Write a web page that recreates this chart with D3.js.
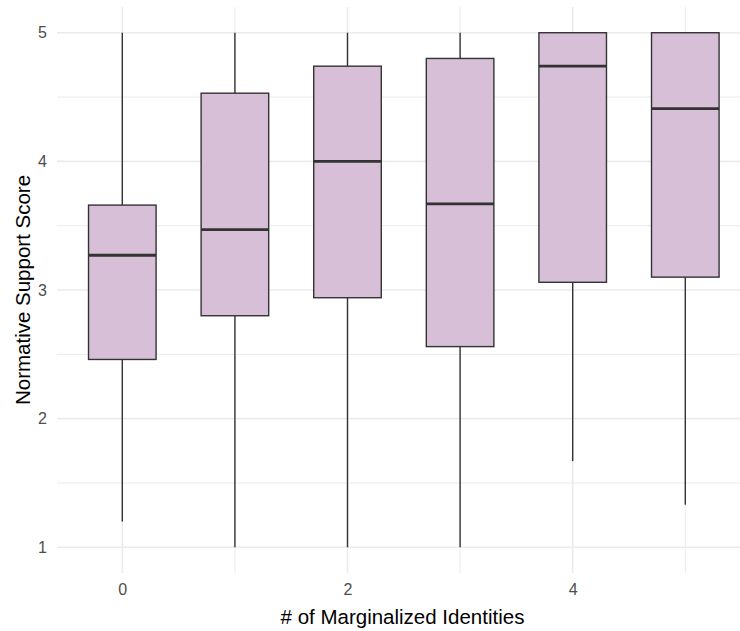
<!DOCTYPE html>
<html>
<head>
<meta charset="utf-8">
<script src="https://cdn.jsdelivr.net/npm/d3@7"></script>
<style>
  body { margin: 0; background: #fff; }
  text { font-family: "Liberation Sans", Arial, sans-serif; }
</style>
</head>
<body>
<script>
const WIDTH = 740;
const HEIGHT = 631;

// data
const groups   = [0, 1, 2, 3, 4, 5];
const lowerWh  = [1.20, 1.00, 1.00, 1.00, 1.67, 1.33];
const q1       = [2.46, 2.80, 2.94, 2.56, 3.06, 3.10];
const medians  = [3.27, 3.47, 4.00, 3.67, 4.74, 4.41];
const q3       = [3.66, 4.53, 4.74, 4.80, 5.00, 5.00];
const upperWh  = [5.00, 5.00, 5.00, 5.00, 5.00, 5.00];

const xTicks = [0, 2, 4];
const xMinor = [1, 3, 5];
const yTicks = [1, 2, 3, 4, 5];
const yMinor = [1.5, 2.5, 3.5, 4.5];

const BOX_W = 0.6;

const svg = d3.select("body").append("svg")
  .attr("width", WIDTH)
  .attr("height", HEIGHT);

// panel spans the ggplot-expanded ranges
const xScale = d3.scaleLinear().domain([-0.58, 5.58]).range([57, 750.6]);
const yScale = d3.scaleLinear().domain([0.8, 5.2]).range([573, 7]);

const [px0, px1] = xScale.range();
const [py0, py1] = yScale.range();

// grid lines, minor first
const grid = svg.append("g");
grid.selectAll(".ymin").data(yMinor).enter().append("line")
  .attr("x1", px0).attr("x2", px1)
  .attr("y1", d => yScale(d)).attr("y2", d => yScale(d))
  .style("stroke", "#EBEBEB").style("stroke-width", 1);
grid.selectAll(".xmin").data(xMinor).enter().append("line")
  .attr("y1", py0).attr("y2", py1)
  .attr("x1", d => xScale(d)).attr("x2", d => xScale(d))
  .style("stroke", "#EBEBEB").style("stroke-width", 1);
grid.selectAll(".ymaj").data(yTicks).enter().append("line")
  .attr("x1", px0).attr("x2", px1)
  .attr("y1", d => yScale(d)).attr("y2", d => yScale(d))
  .style("stroke", "#EBEBEB").style("stroke-width", 1.6);
grid.selectAll(".xmaj").data(xTicks).enter().append("line")
  .attr("y1", py0).attr("y2", py1)
  .attr("x1", d => xScale(d)).attr("x2", d => xScale(d))
  .style("stroke", "#EBEBEB").style("stroke-width", 1.6);

// axes: labels only, no lines
const xAxis = d3.axisBottom(xScale).tickValues(xTicks).tickFormat(d3.format("d"))
  .tickSize(0).tickPadding(11);
const yAxis = d3.axisLeft(yScale).tickValues(yTicks).tickFormat(d3.format("d"))
  .tickSize(0).tickPadding(10);

const gx = svg.append("g")
  .attr("transform", "translate(0," + py0 + ")")
  .call(xAxis);
const gy = svg.append("g")
  .attr("transform", "translate(" + px0 + ",0)")
  .call(yAxis);
[gx, gy].forEach(g => {
  g.attr("font-family", null);
  g.select(".domain").remove();
  g.selectAll("text")
    .style("font-size", "16px")
    .style("fill", "#4D4D4D");
});

// boxes
const boxes = svg.append("g").selectAll("g")
  .data(groups).enter().append("g");

const half = BOX_W / 2;

boxes.append("line")
  .attr("x1", d => xScale(d)).attr("x2", d => xScale(d))
  .attr("y1", (d, i) => yScale(upperWh[i])).attr("y2", (d, i) => yScale(q3[i]))
  .style("stroke", "#333333").style("stroke-width", 1.4);
boxes.append("line")
  .attr("x1", d => xScale(d)).attr("x2", d => xScale(d))
  .attr("y1", (d, i) => yScale(q1[i])).attr("y2", (d, i) => yScale(lowerWh[i]))
  .style("stroke", "#333333").style("stroke-width", 1.4);

boxes.append("rect")
  .attr("x", d => xScale(d - half))
  .attr("width", d => xScale(d + half) - xScale(d - half))
  .attr("y", (d, i) => yScale(q3[i]))
  .attr("height", (d, i) => yScale(q1[i]) - yScale(q3[i]))
  .style("fill", "#D8BFD8")
  .style("stroke", "#333333")
  .style("stroke-width", 1.4);

boxes.append("line")
  .attr("x1", d => xScale(d - half)).attr("x2", d => xScale(d + half))
  .attr("y1", (d, i) => yScale(medians[i])).attr("y2", (d, i) => yScale(medians[i]))
  .style("stroke", "#333333").style("stroke-width", 2.8);

// axis titles
svg.append("text")
  .attr("x", (px0 + 740) / 2 + 4)
  .attr("y", 624)
  .style("text-anchor", "middle")
  .style("font-size", "20.5px")
  .style("fill", "#000")
  .text("# of Marginalized Identities");

svg.append("text")
  .attr("transform", "rotate(-90)")
  .attr("x", -(py0 + py1) / 2)
  .attr("y", 30)
  .style("text-anchor", "middle")
  .style("font-size", "20.5px")
  .style("fill", "#000")
  .text("Normative Support Score");
</script>
</body>
</html>
